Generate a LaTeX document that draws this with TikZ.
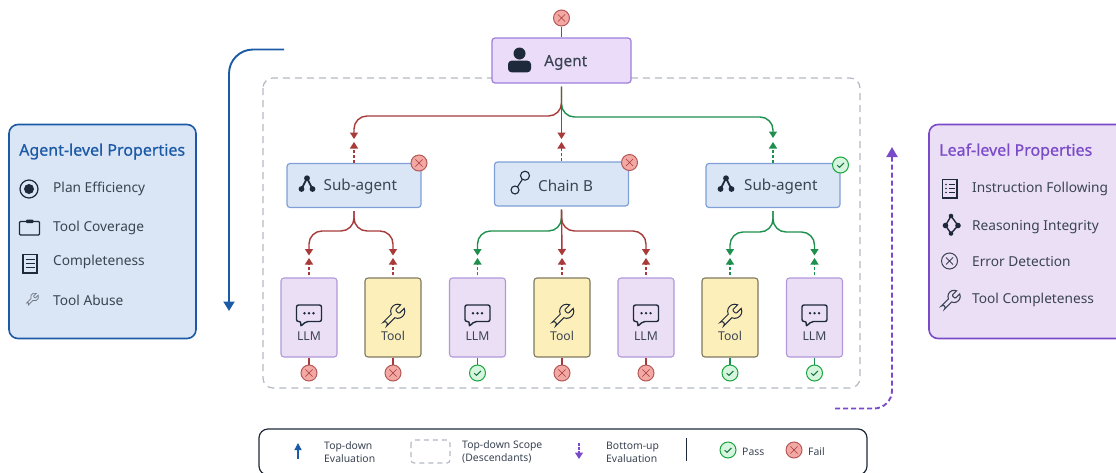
\documentclass[tikz,border=0pt]{standalone}
\usepackage{fontspec}
\setmainfont{Noto Sans}
\newfontfamily\semibold[FakeBold=0.7]{Noto Sans}
\newfontfamily\medium[FakeBold=0.25]{Noto Sans}
\usetikzlibrary{arrows.meta,calc,svg.path}
\definecolor{INK}{HTML}{1E293B}
\definecolor{TXT}{HTML}{3B4453}
\definecolor{BLUEDK}{HTML}{1B5AA6}
\definecolor{BLUEBG}{HTML}{DAE6F5}
\definecolor{BLUELN}{HTML}{7F9FD6}
\definecolor{PURPDK}{HTML}{7A4BC8}
\definecolor{PURPBG}{HTML}{EBDFF6}
\definecolor{AGENTBG}{HTML}{EBDCFA}
\definecolor{AGENTLN}{HTML}{9C7EDB}
\definecolor{PURPLN}{HTML}{B298DA}
\definecolor{TOOLBG}{HTML}{FCEFB9}
\definecolor{TOOLLN}{HTML}{7F7860}
\definecolor{FAILLN}{HTML}{A83A3A}
\definecolor{FAILBG}{HTML}{F2A8A3}
\definecolor{PASSLN}{HTML}{1F8F4E}
\definecolor{PASSBG}{HTML}{D6F5DE}
\definecolor{SCOPELN}{HTML}{B3B8C2}
\begin{document}
\begin{tikzpicture}
[
 x=1pt, y=-1pt,
 inner sep=0pt,
 every node/.style={text=TXT},
 AGENTBOX/.style={rectangle, rounded corners=3pt, draw=AGENTLN, fill=AGENTBG, line width=1.2pt, minimum width=139pt, minimum height=45pt},
 SUBBOX/.style={rectangle, rounded corners=3pt, draw=BLUELN, fill=BLUEBG, line width=1.2pt, minimum width=134pt, minimum height=44pt},
 LLMBOX/.style={rectangle, rounded corners=3pt, draw=PURPLN, fill=PURPBG, line width=1.1pt, minimum width=56pt, minimum height=79pt},
 TOOLBOX/.style={rectangle, rounded corners=3pt, draw=TOOLLN, fill=TOOLBG, line width=1.1pt, minimum width=56pt, minimum height=79pt},
 PANELBLUE/.style={rectangle, rounded corners=9pt, draw=BLUEDK, fill=BLUEBG, line width=1.6pt},
 PANELPURP/.style={rectangle, rounded corners=9pt, draw=PURPDK, fill=PURPBG, line width=1.6pt},
 FAILDOT/.style={circle, draw=FAILLN!85, fill=FAILBG, line width=1pt, minimum size=16pt, path picture={
   \draw [FAILLN, line width=.6pt] (path picture bounding box.center) +(-3.6,-3.6) -- +(3.6,3.6) +(-3.6,3.6) -- +(3.6,-3.6);}},
 PASSDOT/.style={circle, draw=PASSLN!80!green, fill=PASSBG, line width=1pt, minimum size=16pt, path picture={
   \draw [PASSLN!80!black, line width=1pt] (path picture bounding box.center) +(-3.4,0.2) -- +(-1,2.3) -- +(3.4,-2);}},
 REDLINE/.style={draw=FAILLN, line width=1.4pt, rounded corners=13pt, -{Triangle[width=8pt,length=6.5pt]}},
 GRNLINE/.style={draw=PASSLN, line width=1.4pt, rounded corners=13pt, -{Triangle[width=8pt,length=6.5pt]}},
 REDUP/.style={draw=FAILLN, line width=1.4pt, dash pattern=on 3pt off 2pt, -{Triangle[width=8pt,length=6.5pt]}},
 GRNUP/.style={draw=PASSLN, line width=1.4pt, dash pattern=on 3pt off 2pt, -{Triangle[width=8pt,length=6.5pt]}},
 ITEM/.style={anchor=west, yshift=-1pt, font=\fontsize{13.7}{15}\selectfont},
 TITLE/.style={anchor=west, yshift=-1.5pt, font=\fontsize{16}{18}\selectfont\semibold},
 LEAFTXT/.style={yshift=-.5pt, font=\fontsize{12.2}{14}\selectfont},
 BOXTXT/.style={anchor=west, yshift=-2pt, font=\fontsize{15.2}{17}\selectfont},
 SMALLTXT/.style={anchor=west, align=left, yshift=-.5pt, font=\fontsize{10.4}{13}\selectfont},
 WRENCH/.pic={\draw [pic actions, yscale=-1, shift={(-12pt,-12pt)}] svg {M 14.7 6.3 a 1 1 0 0 0 0 1.4 l 1.6 1.6 a 1 1 0 0 0 1.4 0 l 3.77 -3.77 a 6 6 0 0 1 -7.94 7.94 l -6.91 6.91 a 2.12 2.12 0 0 1 -3 -3 l 6.91 -6.91 a 6 6 0 0 1 7.94 -7.94 l -3.76 3.76 z};},
 BUBBLE/.pic={
   \draw [INK, line width=1.4pt, rounded corners=2pt] (-12.5,-9) -- (12.5,-9) -- (12.5,7.5) -- (-3,7.5) -- (-8.5,12.5) -- (-8,7.5) -- (-12.5,7.5) -- cycle;
   \foreach \dx in {-4.5,0,4.5} { \fill [INK] (\dx,-0.8) circle (1.3); }},
 SPLIT/.pic={
   \draw [INK, line width=1.8pt] (0,-6.8) -- (-5.5,4) (0,-6.8) -- (5.5,4);
   \fill [INK] (0,-6.8) circle (2.9) (-5.5,4) circle (2.9) (5.5,4) circle (2.9);},
]
%
\useasboundingbox (0,0) rectangle (1116,472);
%
\draw [SCOPELN, line width=1.2pt, dash pattern=on 7pt off 5pt, rounded corners=10pt] (263,78) rectangle (860,388);
%
% evaluation arrows
\coordinate (BLUEA) at (284,49.5);
\coordinate (BLUEB) at (229,311);
\draw [BLUEDK, line width=1.9pt, rounded corners=24pt, -{Triangle[width=11pt,length=9.5pt]}] (BLUEA) -| (BLUEB);
\coordinate (PURPA) at (835,408.5);
\coordinate (PURPB) at (892,147);
\draw [PURPDK, line width=1.9pt, dash pattern=on 5pt off 3pt, rounded corners=18pt, -{Triangle[width=11pt,length=10pt]}] (PURPA) -| (PURPB);
%
\node [AGENTBOX]  (AGENT)  at (561.5,60.5)  {};
\node [SUBBOX]    (SUBA)   at (354,185.5)   {};
\node [SUBBOX]    (CHAIN)  at (561.5,184)   {};
\node [SUBBOX]    (SUBB)   at (773,185.5)   {};
%
\node [LLMBOX]    (LEAFA)  at (309,317.5)   {};
\node [TOOLBOX]   (LEAFB)  at (393,317.5)   {};
\node [LLMBOX]    (LEAFC)  at (477.5,317.5) {};
\node [TOOLBOX]   (LEAFD)  at (562,317.5)   {};
\node [LLMBOX]    (LEAFE)  at (646,317.5)   {};
\node [TOOLBOX]   (LEAFF)  at (730,317.5)   {};
\node [LLMBOX]    (LEAFG)  at (814.5,317.5) {};
%
\node [FAILDOT]   (DOTTOP) at (561.5,18)    {};
\node [FAILDOT]   (DOTA)   at (309,373)     {};
\node [FAILDOT]   (DOTB)   at (393,373)     {};
\node [PASSDOT]   (DOTC)   at (477.5,373)   {};
\node [FAILDOT]   (DOTD)   at (562,373)     {};
\node [FAILDOT]   (DOTE)   at (646,373)     {};
\node [PASSDOT]   (DOTF)   at (730,373)     {};
\node [PASSDOT]   (DOTG)   at (814.5,373)   {};
\node [FAILDOT]   (DOTSA)  at (419,163)     {};
\node [FAILDOT]   (DOTCH)  at (629.5,162.5) {};
\node [PASSDOT]   (DOTSB)  at (840.5,165)   {};
%
\draw [FAILLN, line width=1.4pt]  (DOTTOP) -- (AGENT.north);
\foreach \n/\c in {A/FAILLN,B/FAILLN,C/PASSLN,D/FAILLN,E/FAILLN,F/PASSLN,G/PASSLN}
   { \draw [\c, line width=1.4pt]  (LEAF\n.south) -- (DOT\n.north); }
%
% tree connectors, green ones first
\coordinate (TIPSA) at (354,139);
\coordinate (TIPCH) at (561.5,139);
\coordinate (TIPSB) at (773,138);
\coordinate (UPSA)  at (354,142);
\coordinate (UPCH)  at (561.5,142);
\coordinate (UPSB)  at (773,142);
\draw [GRNLINE, shorten <=3pt] (AGENT.south) -- (561.5,117) -- (773,117) -- (TIPSB);
\draw [REDLINE, shorten <=3pt] (AGENT.south) -- (561.5,116) -- (354,116) -- (TIPSA);
\draw [REDLINE, shorten <=3pt, rounded corners=0pt] (AGENT.south) -- (TIPCH);
\draw [REDUP]  (SUBA.north)  -- (UPSA);
\draw [REDUP]  (CHAIN.north) -- (UPCH);
\draw [GRNUP]  (SUBB.north)  -- (UPSB);
%
\foreach \n/\x in {A/309,B/393,C/477.5,D/562,E/646,F/730,G/814.5}
   {
     \coordinate (TIP\n) at (\x,255.5);
     \coordinate (UP\n)  at (\x,258);
   }
\draw [GRNLINE, shorten <=3pt] (CHAIN.south) -- (561.5,231) -- (477.5,231) -- (TIPC);
\draw [REDLINE, shorten <=3pt] (CHAIN.south) -- (561.5,231) -- (646,231) -- (TIPE);
\draw [REDLINE, shorten <=3pt] (CHAIN.south) -- (TIPD);
\draw [REDLINE, shorten <=3pt] (SUBA.south) -- (354,231) -- (309,231) -- (TIPA);
\draw [REDLINE, shorten <=3pt] (SUBA.south) -- (354,231) -- (393,231) -- (TIPB);
\draw [GRNLINE, shorten <=3pt] (SUBB.south) -- (773,232) -- (730,232) -- (TIPF);
\draw [GRNLINE, shorten <=3pt] (SUBB.south) -- (773,232) -- (814.5,232) -- (TIPG);
%
\foreach \n/\s in {A/REDUP,B/REDUP,C/GRNUP,D/REDUP,E/REDUP,F/GRNUP,G/GRNUP}
   { \draw [\s, shorten <=2pt]  (LEAF\n.north) -- (UP\n); }
%
% box contents
\fill [INK] (519.5,53.5) circle (6);
\fill [INK, rounded corners=3.5pt] (508,60.7) rectangle (531,72.3);
\node [BOXTXT, font=\fontsize{15.4}{17}\selectfont\medium] (AGENTTXT) at (544,60.5) {Agent};
%
\pic at (307,185) {SPLIT};
\node [BOXTXT] (SUBATXT) at (323.5,184.5) {Sub-agent};
\pic at (726,185) {SPLIT};
\node [BOXTXT] (SUBBTXT) at (744,184.5) {Sub-agent};
%
\draw [INK, line width=1.1pt] (515,190) circle (4) (525,175.7) circle (4.5) (517.5,186.8) -- (522.3,179.4);
\node [BOXTXT] (CHAINTXT) at (538,184) {Chain B};
%
\foreach \x/\n in {309/A,477.5/C,646/E,814.5/G}
   {
     \pic at (\x,314) {BUBBLE};
     \node [LEAFTXT] (LLMTXT\n) at (\x,335.5) {LLM};
   }
\foreach \x/\n in {393/B,562/D,730/F}
   {
     \pic [draw=INK, line width=1pt, scale=1.18] at (\x,316) {WRENCH};
     \node [LEAFTXT] (TOOLTXT\n) at (\x,335.5) {Tool};
   }
%
% left panel
\node [PANELBLUE, minimum width=187pt, minimum height=214pt] (PANELA) at (102.5,231.5) {};
\node [TITLE, text=BLUEDK] (TITLEA) at (19,150) {Agent-level Properties};
\foreach \y/\n/\t in {188/A/Plan Efficiency,226.5/B/Tool Coverage,261/C/Completeness,299/D/Tool Abuse}
   { \node [ITEM] (ITEMA\n) at (53,\y) {\t}; }
%
\draw [INK, line width=1.2pt] (29,189) circle (9);
\fill [INK] (29,189) circle (5);
\draw [INK, line width=1.1pt, rounded corners=1pt] (19.5,221.5) rectangle (39.5,235);
\fill [INK, rounded corners=1pt] (26,219.5) rectangle (33.5,223);
\draw [INK, line width=1.1pt] (23,254.5) rectangle (37,273);
\foreach \y in {259.5,263.5,267.5} { \draw [INK, line width=1.1pt] (25.5,\y) -- (34.5,\y); }
\pic [draw=TXT!75, line width=.7pt, scale=.65] at (32,299.5) {WRENCH};
%
% right panel, runs off the page
\node [PANELPURP, minimum width=206pt, minimum height=214pt] (PANELB) at (1032,231.5) {};
\node [TITLE, text=PURPDK] (TITLEB) at (939,150) {Leaf-level Properties};
\foreach \y/\n/\t in {187.5/A/Instruction Following,226/B/Reasoning Integrity,261/C/Error Detection,299/D/Tool Completeness}
   { \node [ITEM] (ITEMB\n) at (972,\y) {\t}; }
%
\draw [INK, line width=1.1pt] (942.5,179.5) rectangle (957,198);
\foreach \y in {184.5,188.5,192.5}
   {
     \fill [INK] (946,\y) circle (.8);
     \draw [INK, line width=1pt] (948.5,\y) -- (954.5,\y);
   }
\draw [INK, line width=1.4pt] (951,216) -- (945.5,225.5) -- (951,233.5) -- (958,225.5) -- cycle;
\fill [INK] (951,216) circle (2.3) (945.5,225.5) circle (2.8) (958,225.5) circle (2.8) (951,233.5) circle (2.3);
\draw [TXT, line width=1pt] (949.5,261) circle (8);
\draw [TXT, line width=.8pt] (946,257.5) -- (953,264.5) (946,264.5) -- (953,257.5);
\pic [draw=TXT, line width=1.1pt, scale=1.02] at (950,300.5) {WRENCH};
%
% legend, cut by the page edge
\node [rectangle, rounded corners=9pt, draw=INK, line width=1.2pt, minimum width=608pt, minimum height=46pt] (LEGEND) at (563,452) {};
\coordinate (LEGUA) at (298,459);
\coordinate (LEGUB) at (298,443);
\draw [BLUEDK, line width=1.3pt, -{Triangle[width=7pt,length=7pt]}] (LEGUA) -- (LEGUB);
\node [SMALLTXT] (LEGTA) at (324,451.5) {Top-down\\Evaluation};
\draw [SCOPELN, line width=1.1pt, dash pattern=on 5pt off 4pt, rounded corners=3pt] (411,440) rectangle (450,463);
\node [SMALLTXT] (LEGTB) at (462,451.5) {Top-down Scope\\(Descendants)};
\coordinate (LEGDA) at (579,443);
\coordinate (LEGDB) at (579,459);
\draw [PURPDK, line width=1.2pt, dash pattern=on 2.5pt off 1.5pt, -{Triangle[width=8pt,length=6.5pt]}] (LEGDA) -- (LEGDB);
\node [SMALLTXT] (LEGTC) at (606,451.5) {Bottom-up\\Evaluation};
\coordinate (LEGSA) at (686,438);
\coordinate (LEGSB) at (686,461);
\draw [INK, line width=.8pt] (LEGSA) -- (LEGSB);
\node [PASSDOT] (LEGPASS) at (728,450) {};
\node [SMALLTXT] (LEGTD) at (742,451.5) {Pass};
\node [FAILDOT] (LEGFAIL) at (794,450) {};
\node [SMALLTXT] (LEGTE) at (808,451.5) {Fail};
%
\end{tikzpicture}
\end{document}
